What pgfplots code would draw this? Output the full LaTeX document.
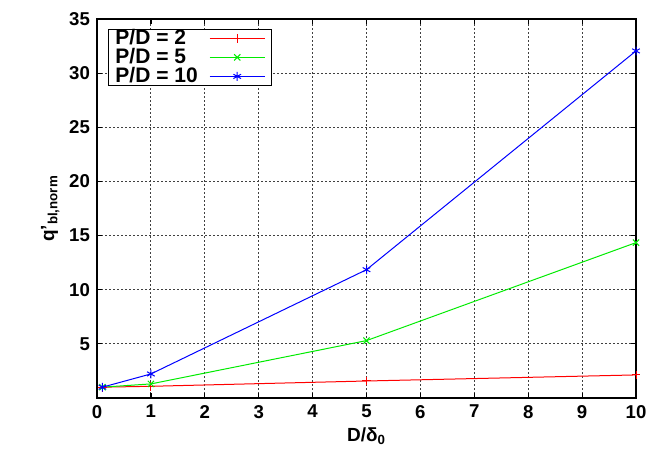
\documentclass[border=0pt]{standalone}
\usepackage{pgfplots}
\pgfplotsset{compat=1.18}
\usepackage{fontspec}
\setmainfont{Liberation Sans}
\definecolor{gpgreen}{RGB}{0,235,0}
\begin{document}
\begin{tikzpicture}
\begin{axis}[
  at={(0,0)}, anchor=south west,
  scale only axis,
  width=269.5pt, height=189.5pt,
  xmin=0, xmax=10, ymin=0, ymax=35,
  xtick={0,1,...,10}, ytick={5,10,...,35},
  tick align=inside,
  major tick length=2.5pt,
  axis line style={line width=0.8pt},
  every tick/.style={black, line width=0.6pt},
  grid=major,
  major grid style={black!75, line width=0.5pt, dash pattern=on 1pt off 1pt},
  /pgf/number format/assume math mode=true,
  ticklabel style={font=\bfseries\fontsize{9.3}{10}\selectfont},
  xlabel={\textbf{D/δ\textsubscript{0}}},
  ylabel={\textbf{q'\textsubscript{bl,norm}}},
  label style={font=\bfseries\fontsize{9.5}{10}\selectfont},
  xlabel style={yshift=2pt},
  ylabel style={yshift=-2pt},
  legend cell align=left,
  legend plot pos=right,
  legend style={at={(0.0205,0.974)}, anchor=north west,
    font=\bfseries\fontsize{10.5}{10}\selectfont, row sep=-3.6pt,
    inner xsep=1.5pt, inner ysep=-2pt},
  legend image code/.code={
    \draw[mark repeat=2, mark phase=2, #1, line width=0.5pt] plot coordinates {(0pt,0pt) (13.75pt,0pt) (27.5pt,0pt)};
    \draw[draw=none] (-4pt,0pt) -- (29.5pt,0pt);
  },
]
\addplot[color=red, line width=0.5pt, mark=+, mark size=2.2pt, mark options={solid}]
  coordinates {(0.1,1.0) (1,1.08) (5,1.57) (10,2.13)};
\addlegendentry{P/D = 2}
\addplot[color=gpgreen, line width=0.5pt, mark=x, mark size=2.2pt]
  coordinates {(0.1,1.0) (1,1.3) (5,5.3) (10,14.35)};
\addlegendentry{P/D = 5}
\addplot[color=blue, line width=0.5pt, mark=asterisk, mark size=2.2pt]
  coordinates {(0.1,1.0) (1,2.22) (5,11.85) (10,32.05)};
\addlegendentry{P/D = 10}
\end{axis}
\useasboundingbox (-48.5pt,-33pt) rectangle (283.5pt,199pt);
\end{tikzpicture}
\end{document}
